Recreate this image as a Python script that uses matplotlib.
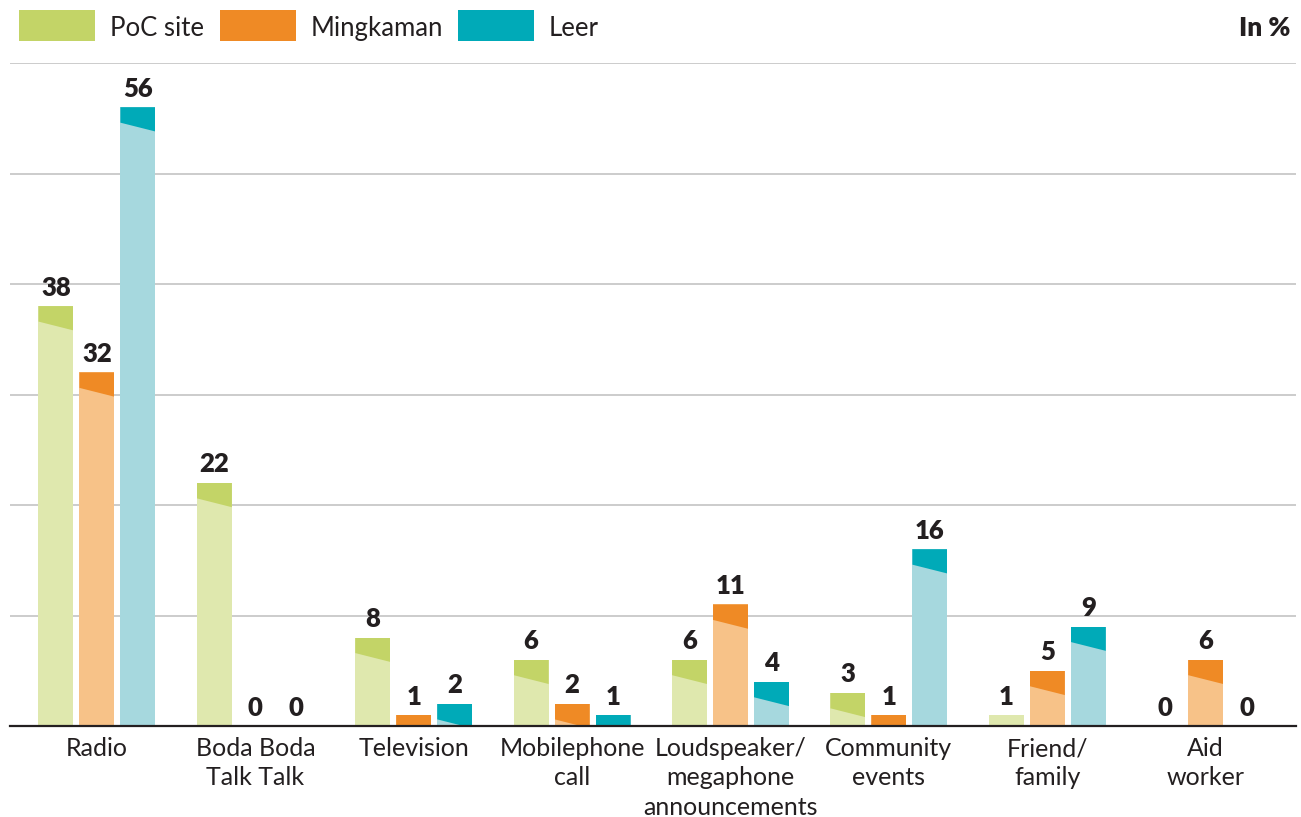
import matplotlib
matplotlib.use("Agg")
import matplotlib.pyplot as plt
from matplotlib.patches import Rectangle, Polygon
import numpy as np

# data
categories = ["Radio", "Boda Boda\nTalk Talk", "Television", "Mobilephone\ncall",
              "Loudspeaker/\nmegaphone\nannouncements", "Community\nevents",
              "Friend/\nfamily", "Aid\nworker"]
series_names = ["PoC site", "Mingkaman", "Leer"]
poc = [38, 22, 8, 6, 6, 3, 1, 0]
mingkaman = [32, 0, 1, 2, 11, 1, 5, 6]
leer = [56, 0, 2, 1, 4, 16, 9, 0]
series = [poc, mingkaman, leer]

dark_colors = ["#c3d467", "#ef8a25", "#00aab8"]
light_colors = ["#dfe8ae", "#f7c288", "#a6d8de"]
text_col = "#231f20"
font = "Lato"

# caps drawn on every bar except this one (light only in the original)
no_cap = {(6, 0)}

fig = plt.figure(figsize=(13.01, 8.17), dpi=100)
ax = fig.add_axes([10 / 1301, 1 - 726 / 817, 1286 / 1301, (726 - 63) / 817])

x = np.arange(len(categories))
width = 0.221
offsets = [-0.2587, 0, 0.2587]
cap_left, cap_right = 1.4, 2.2

for s, vals in enumerate(series):
    bars = ax.bar(x + offsets[s], vals, width=width, color=light_colors[s],
                  zorder=3, linewidth=0)
    for i, (b, v) in enumerate(zip(bars, vals)):
        x0 = b.get_x()
        x1 = x0 + b.get_width()
        if v > 0 and (i, s) not in no_cap:
            poly = Polygon([(x0, v), (x1, v), (x1, v - cap_right), (x0, v - cap_left)],
                           closed=True, facecolor=dark_colors[s], linewidth=0, zorder=4)
            ax.add_patch(poly)
            poly.set_clip_path(b)
        ax.annotate(str(v), (x0 + b.get_width() / 2, v), xytext=(0, 7.5),
                    textcoords="offset points", ha="center", va="baseline",
                    fontsize=18.5, fontweight="heavy", color=text_col,
                    family=font)

ax.set_xlim(-0.549, 7.57)
ax.set_ylim(0, 60)
ax.set_yticks(np.arange(10, 61, 10))
ax.grid(axis="y", color="#c8c8c8", linewidth=1.3, zorder=0)
ax.tick_params(axis="y", left=False, labelleft=False)
ax.set_xticks(x)
ax.set_xticklabels(categories, fontsize=18, family=font, color=text_col,
                   linespacing=1.33)
ax.tick_params(axis="x", length=0, pad=8)
for side in ["left", "right", "top"]:
    ax.spines[side].set_visible(False)
ax.spines["bottom"].set_color(text_col)
ax.spines["bottom"].set_linewidth(1.6)
ax.spines["bottom"].set_zorder(5)

# legend drawn in figure pixels
W, H = 1301, 817
legend_x = [19, 220, 458]
for lx, name, c in zip(legend_x, series_names, dark_colors):
    fig.patches.append(Rectangle((lx / W, 1 - 41 / H), 76 / W, 31 / H,
                                 transform=fig.transFigure, facecolor=c,
                                 linewidth=0))
    fig.text((lx + 91) / W, 1 - 36 / H, name, fontsize=18.5, family=font,
             color=text_col, va="baseline", ha="left")

fig.text(1290 / W, 1 - 36 / H, "In %", fontsize=19, family=font,
         fontweight="heavy", color=text_col, ha="right", va="baseline")

fig.savefig("out.png", dpi=100)
